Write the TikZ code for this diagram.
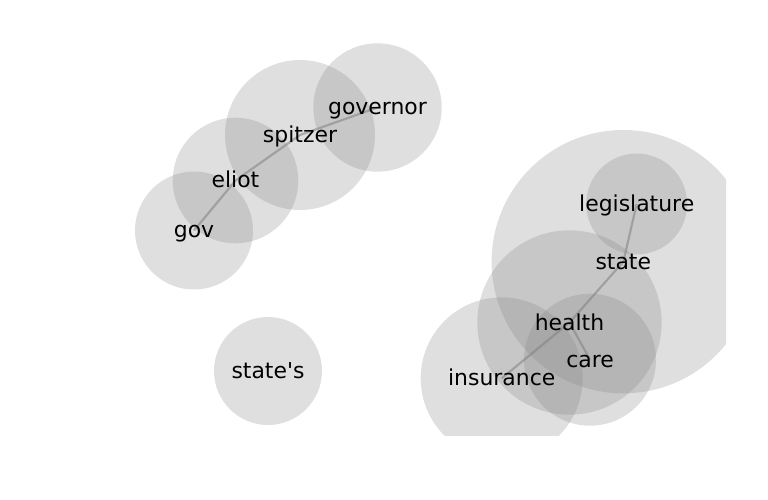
\documentclass[tikz,border=0pt]{standalone}
\usepackage{fontspec}
\newfontfamily\wordfont{DejaVu Sans}
\begin{document}
\begin{tikzpicture}[x=1bp,y=-1bp,
  bubble/.style={circle,fill=gray,fill opacity=0.25,draw=none,inner sep=0pt,minimum size=#1},
  link/.style={draw=gray,opacity=0.55,line width=2.2bp},
  word/.style={inner sep=0pt,text=black,text height=19bp,text depth=4bp,font=\wordfont\fontsize{22}{26}\selectfont}]
\useasboundingbox (0,0) rectangle (768,500);
\begin{scope}
\clip (0,0) rectangle (726,435);
\node[bubble=128.4bp] (cgovernor) at (377.5,107.5) {};
\node[bubble=150bp] (cspitzer) at (300,135) {};
\node[bubble=125.6bp] (celiot) at (235.5,180.5) {};
\node[bubble=118bp] (cgov) at (194,230.5) {};
\node[bubble=108bp] (cstates) at (268,371) {};
\node[bubble=263.4bp] (cstate) at (623.3,261.7) {};
\node[bubble=101bp] (clegislature) at (636.7,204) {};
\node[bubble=184.4bp] (chealth) at (569.5,322.5) {};
\node[bubble=132bp] (ccare) at (590,359.7) {};
\node[bubble=162bp] (cinsurance) at (501.7,378.3) {};
\end{scope}
\draw[link] (cgov.center) -- (celiot.center);
\draw[link] (celiot.center) -- (cspitzer.center);
\draw[link] (cspitzer.center) -- (cgovernor.center);
\draw[link] (clegislature.center) -- (cstate.center);
\draw[link] (cstate.center) -- (chealth.center);
\draw[link] (chealth.center) -- (ccare.center);
\draw[link] (chealth.center) -- (cinsurance.center);
\node[word] (tgovernor) at (cgovernor.center) {governor};
\node[word] (tspitzer) at (cspitzer.center) {spitzer};
\node[word] (teliot) at (celiot.center) {eliot};
\node[word] (tgov) at (cgov.center) {gov};
\node[word] (tstates) at (cstates.center) {state's};
\node[word] (tstate) at (cstate.center) {state};
\node[word] (tlegislature) at (clegislature.center) {legislature};
\node[word] (thealth) at (chealth.center) {health};
\node[word] (tcare) at (ccare.center) {care};
\node[word] (tinsurance) at (cinsurance.center) {insurance};
\end{tikzpicture}
\end{document}
